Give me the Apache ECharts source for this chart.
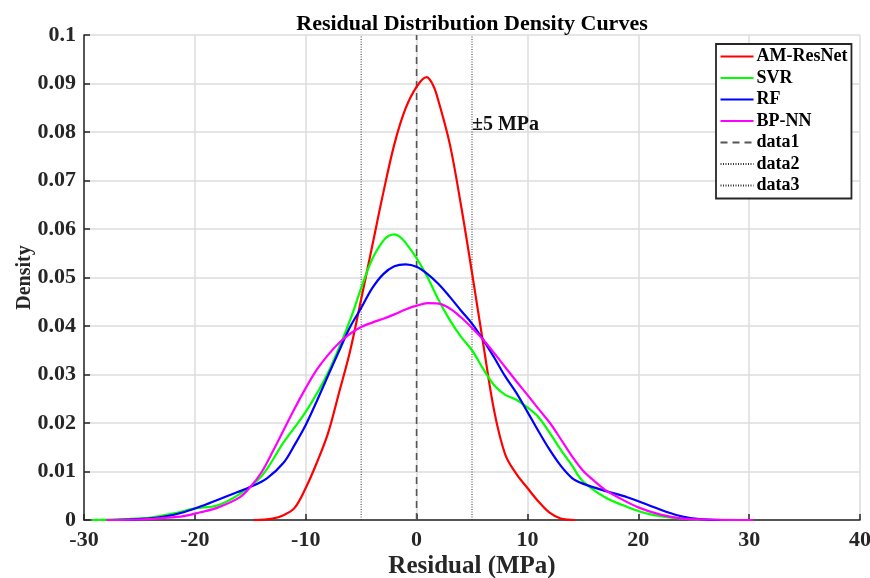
<!DOCTYPE html>
<html>
<head>
<meta charset="utf-8">
<script src="https://cdn.jsdelivr.net/npm/echarts@6/dist/echarts.min.js"></script>
<style>html,body{margin:0;padding:0;background:#fff}#c{width:870px;height:578px}</style>
</head>
<body>
<div id="c"></div>
<script>
const seriesNames = ['AM-ResNet', 'SVR', 'RF', 'BP-NN', 'data1', 'data2', 'data3'];

const amX = [-14.7, -13, -12, -11, -10, -9, -8, -7, -6, -5, -4, -3, -2, -1, 0, 0.9, 1.5, 2, 3, 4, 5, 6, 7, 8, 9, 10, 11, 12, 13, 14.3];
const amY = [0, 0.0003, 0.001, 0.0025, 0.0066, 0.0118, 0.0178, 0.0262, 0.0348, 0.0455, 0.0565, 0.0675, 0.0775, 0.0848, 0.0893, 0.0913, 0.0896, 0.0862, 0.0775, 0.065, 0.051, 0.0365, 0.0225, 0.0135, 0.0095, 0.0066, 0.0038, 0.0015, 0.0003, 0];

const svrX = [-29.3, -26, -24, -22, -20, -18, -16, -14, -12, -10, -8, -6, -5, -4, -3, -2.5, -2, -1.5, -1, 0, 1, 2, 3, 4, 5, 6, 7, 8, 9, 10, 11, 12, 13, 14, 15, 17, 19, 21, 23, 26.2];
const svrY = [0, 0.0002, 0.0005, 0.0013, 0.0024, 0.003, 0.0053, 0.009, 0.016, 0.0223, 0.0303, 0.0412, 0.0478, 0.0538, 0.0576, 0.0586, 0.0589, 0.0584, 0.0572, 0.054, 0.050, 0.0453, 0.0412, 0.0378, 0.035, 0.0312, 0.0278, 0.0258, 0.0248, 0.0232, 0.0212, 0.018, 0.0145, 0.0113, 0.008, 0.0047, 0.0027, 0.0012, 0.0005, 0];

const rfX = [-27.5, -25, -23, -21, -19, -17, -15, -13.5, -12, -11, -10, -9, -8, -7, -6, -5, -4, -3, -2, -1, 0, 1, 2, 3, 4, 5, 6, 7, 8, 9, 10, 11, 12, 13, 14, 15, 17, 19, 21, 22.5, 24, 25.5, 27.4];
const rfY = [0, 0.0002, 0.0006, 0.0016, 0.0032, 0.005, 0.0068, 0.0086, 0.0118, 0.0155, 0.0196, 0.0245, 0.0297, 0.0348, 0.0398, 0.0437, 0.0478, 0.0507, 0.0523, 0.0527, 0.0522, 0.0507, 0.0486, 0.046, 0.0432, 0.0405, 0.0372, 0.0335, 0.0296, 0.0262, 0.0223, 0.0183, 0.0145, 0.0112, 0.0087, 0.0075, 0.006, 0.0047, 0.003, 0.0017, 0.0007, 0.0002, 0];

const bpX = [-28, -25, -23, -21, -19.5, -18, -16, -15, -14, -13, -12, -11, -10, -9, -8, -7, -6, -5, -4, -3, -2, -1, 0, 1, 2, 3, 4, 5, 6, 7, 8, 9, 10, 11, 12, 13, 14, 15, 16, 17, 18, 20, 22, 24, 26, 30.4];
const bpY = [0, 0.0001, 0.0004, 0.0008, 0.0016, 0.0025, 0.0046, 0.0068, 0.0098, 0.014, 0.0185, 0.023, 0.0272, 0.031, 0.034, 0.0365, 0.0384, 0.0398, 0.0407, 0.0415, 0.0424, 0.0434, 0.0442, 0.0447, 0.0446, 0.0436, 0.0418, 0.0396, 0.0372, 0.0344, 0.0315, 0.0286, 0.0258, 0.0229, 0.0201, 0.0167, 0.0132, 0.0102, 0.0081, 0.0062, 0.0049, 0.0026, 0.0011, 0.0003, 0.0001, 0];

const refLineX = [0, -5, 5];      // data1, data2, data3
const refLineY = [0, 0.1];
const annotText = '±5 MPa';
const annotPos = [5, 0.0814];

const xTicks = { min: -30, max: 40, interval: 10 };
const yTicks = { min: 0, max: 0.1, interval: 0.01 };

const F = 'Liberation Serif';
const pairs = (xs, ys) => xs.map((x, i) => [x, ys[i]]);

const curveColors = ['#ff0000', '#00ff00', '#0000ff', '#ff00ff'];
const curves = [[amX, amY], [svrX, svrY], [rfX, rfY], [bpX, bpY]];

const series = curves.map((c, i) => ({
  name: seriesNames[i],
  type: 'line',
  data: pairs(c[0], c[1]),
  smooth: 0.35,
  symbol: 'none',
  lineStyle: { color: curveColors[i], width: 2.2 },
  itemStyle: { color: curveColors[i] },
  z: 3
}));

refLineX.forEach((xv, i) => {
  const s = {
    name: seriesNames[4 + i],
    type: 'line',
    data: refLineY.map(y => [xv, y]),
    symbol: 'none',
    lineStyle: i === 0 ? { color: '#555555', width: 1.6, type: [7, 5] } : { color: '#333333', width: 1, type: [1, 1.5] },
    itemStyle: { color: i === 0 ? '#555555' : '#333333' },
    z: 2
  };
  if (i === 2) {
    s.markPoint = {
      symbol: 'circle', symbolSize: 0,
      data: [{ coord: annotPos, label: { show: true, formatter: annotText, position: 'right', distance: 0, fontFamily: F, fontWeight: 'bold', fontSize: 20, color: '#111' } }],
      silent: true
    };
  }
  series.push(s);
});

const chart = echarts.init(document.getElementById('c'), null, { renderer: 'canvas' });
chart.setOption({
  animation: false,
  backgroundColor: '#ffffff',
  title: {
    text: 'Residual Distribution Density Curves',
    left: 472, top: 13, textAlign: 'center', padding: 0,
    textStyle: { fontFamily: F, fontWeight: 'bold', fontSize: 22, color: '#000' }
  },
  grid: { left: 84, right: 10, top: 35, bottom: 58, containLabel: false, outerBoundsMode: 'none' },
  legend: {
    orient: 'vertical',
    left: 716, top: 44,
    data: seriesNames,
    itemWidth: 33, itemHeight: 14, itemGap: 3.5,
    padding: [3.5, 4, 4, 3.5],
    borderColor: '#262626', borderWidth: 1.8,
    backgroundColor: '#ffffff',
    itemStyle: { opacity: 0, color: 'transparent', borderWidth: 0 },
    textStyle: { fontFamily: F, fontWeight: 'bold', fontSize: 18, lineHeight: 18, color: '#000', padding: [0, 0, 0, -2] }
  },
  xAxis: {
    type: 'value', min: xTicks.min, max: xTicks.max, interval: xTicks.interval,
    name: 'Residual (MPa)', nameLocation: 'middle', nameGap: 34, nameMoveOverlap: false,
    nameTextStyle: { fontFamily: F, fontWeight: 'bold', fontSize: 25, color: '#262626' },
    axisLine: { show: true, onZero: false, lineStyle: { color: '#262626', width: 1.5 } },
    axisTick: { show: true, inside: true, length: 6, lineStyle: { color: '#262626', width: 1.5 } },
    axisLabel: { fontFamily: F, fontWeight: 'bold', fontSize: 22, color: '#262626', margin: 9 },
    splitLine: { show: true, lineStyle: { color: '#dcdcdc', width: 1.5 } }
  },
  yAxis: {
    type: 'value', min: yTicks.min, max: yTicks.max, interval: yTicks.interval,
    name: 'Density', nameLocation: 'middle', nameGap: 49, nameRotate: 90, nameMoveOverlap: false,
    nameTextStyle: { fontFamily: F, fontWeight: 'bold', fontSize: 20, color: '#262626' },
    axisLine: { show: true, onZero: false, lineStyle: { color: '#262626', width: 1.5 } },
    axisTick: { show: true, inside: true, length: 6, lineStyle: { color: '#262626', width: 1.5 } },
    axisLabel: { fontFamily: F, fontWeight: 'bold', fontSize: 22, color: '#262626', margin: 8 },
    splitLine: { show: true, lineStyle: { color: '#dcdcdc', width: 1.5 } }
  },
  series: series
});
</script>
</body>
</html>
